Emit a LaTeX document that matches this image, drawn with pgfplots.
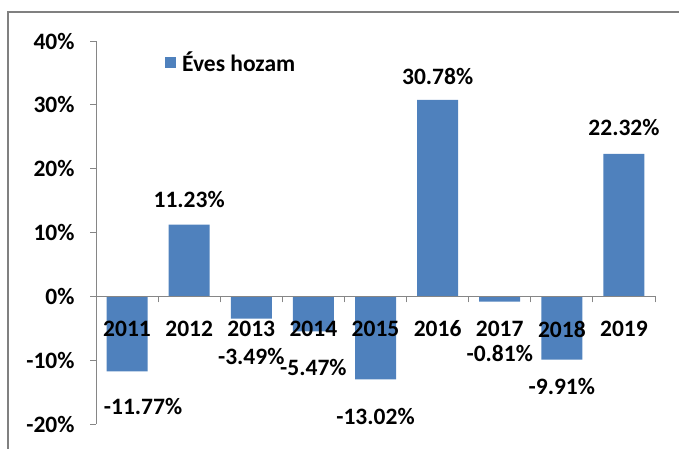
\documentclass[border=0pt]{standalone}
\usepackage{pgfplots}
\pgfplotsset{compat=1.18}
\usepackage{fontspec}
\setmainfont{Carlito}
\definecolor{barblue}{HTML}{4F81BD}
\definecolor{axgray}{HTML}{868686}
\definecolor{framegray}{HTML}{808080}
\newcommand{\lf}{\fontsize{23.5}{27}\selectfont\bfseries}
\pgfplotstableread{
x y
1 -11.77
2 11.23
3 -3.49
4 -5.47
5 -13.02
6 30.78
7 -0.81
8 -9.91
9 22.32
}\bardata
\pgfplotstableread{
x y lab
1.257 -17.3 -11.77
2 15.2 11.23
3 -9.4 -3.49
4 -11.1 -5.47
5 -18.75 -13.02
6 34.5 30.78
7 -8.9 -0.81
8 -14.2 -9.91
9 26.4 22.32
}\labdata
\begin{document}
\begin{tikzpicture}[x=1pt,y=1pt]
\useasboundingbox (0,0) rectangle (679,448);
\draw[framegray, line width=1.6pt] (8,436) rectangle (720,-30);
\begin{axis}[
  at={(96pt,24pt)}, anchor=south west,
  scale only axis, width=559pt, height=383pt,
  xmin=0.5, xmax=9.5, ymin=-20, ymax=40,
  axis y line=left, axis x line=middle,
  axis line style={axgray, line width=1pt, -},
  xtick={1,...,9},
  xticklabels={2011,2012,2013,2014,2015,2016,2017,2018,2019},
  major x tick style={draw=none},
  minor xtick={0.5,1.5,...,9.5},
  tick align=outside,
  major tick length=6pt, minor tick length=6pt,
  tick style={axgray, line width=1pt},
  ytick={-20,-10,...,40},
  yticklabels={-20\%,-10\%,0\%,10\%,20\%,30\%,40\%},
  ticklabel style={font=\lf},
  xticklabel style={yshift=-15pt},
  yticklabel style={xshift=-12pt},
  axis on top,
  clip=false,
  legend style={at={(0.1234,0.945)}, anchor=west, draw=none, fill=none,
    inner sep=0pt, font=\lf},
  legend image code/.code={\fill[barblue] (0pt,-5.5pt) rectangle (11pt,5.5pt);},
  /tikz/every even column/.append style={column sep=0pt},
  legend cell align=left,
]
\addplot[ybar, bar shift=0pt, bar width=41pt, fill=barblue, draw=none] table[x=x,y=y] {\bardata};
\addlegendentry{\hspace{4pt}Éves hozam}
\addplot[draw=none, forget plot, nodes near coords={\pgfplotspointmeta\%},
  point meta=explicit symbolic,
  every node near coord/.append style={anchor=center, font=\lf, text=black}]
  table[x=x,y=y,meta=lab] {\labdata};
\end{axis}
\end{tikzpicture}
\end{document}
